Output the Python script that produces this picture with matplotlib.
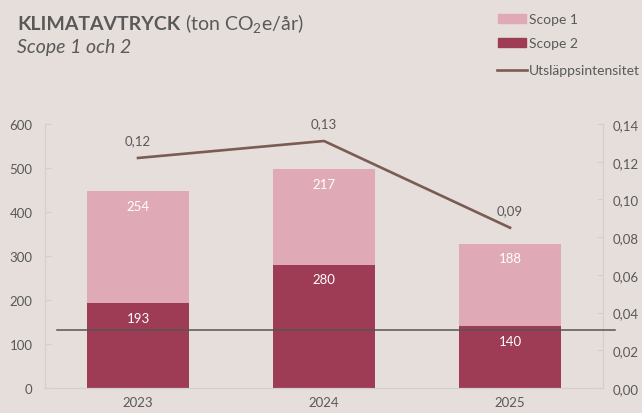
import matplotlib.pyplot as plt
import numpy as np
from matplotlib.patches import Rectangle
from matplotlib.lines import Line2D

plt.rcParams['font.family'] = ['Lato', 'DejaVu Sans']
plt.rcParams['mathtext.default'] = 'regular'

years = ['2023', '2024', '2025']
scope2 = [193, 280, 140]
scope1 = [254, 217, 188]
intensity = [0.122, 0.131, 0.085]
intensity_labels = ['0,12', '0,13', '0,09']
ref_level = 132

bg = '#e6dedb'
c_s1 = '#dfa9b6'
c_s2 = '#9e3b55'
c_line = '#7a5c52'
c_text = '#595959'
c_axis = '#d2cfcd'

fig = plt.figure(figsize=(6.42, 4.14), dpi=100)
fig.patch.set_facecolor(bg)
ax = fig.add_axes([0.0701, 0.0604, 0.8692, 0.6376])
ax.set_facecolor(bg)
ax2 = ax.twinx()

x = np.arange(len(years))
w = 0.55
ax.bar(x, scope2, w, color=c_s2, zorder=2)
ax.bar(x, scope1, w, bottom=scope2, color=c_s1, zorder=2)
for i in x:
    ax.annotate(str(scope2[i]), (i, scope2[i]), xytext=(0, -10.5), textcoords='offset points',
                ha='center', va='center', color='white', fontsize=9.5, zorder=3)
    ax.annotate(str(scope1[i]), (i, scope2[i] + scope1[i]), xytext=(0, -10.5), textcoords='offset points',
                ha='center', va='center', color='white', fontsize=9.5, zorder=3)

ax.set_xlim(-0.5, 2.5)
ax.set_ylim(0, 600)
ax.set_yticks(range(0, 601, 100))
ax.set_xticks(x)
ax.set_xticklabels(years)

ax2.plot(x, intensity, color=c_line, lw=1.9, zorder=4)
for i in x:
    ax2.annotate(intensity_labels[i], (i, intensity[i]), xytext=(0, 12.5), textcoords='offset points',
                 ha='center', va='center', color=c_text, fontsize=9.5)
ax2.set_ylim(0, 0.14)
ax2.set_yticks(np.arange(0, 0.141, 0.02))
ax2.set_yticklabels([f'{v:.2f}'.replace('.', ',') for v in np.arange(0, 0.141, 0.02)])

# stray horizontal line in the source chart
ax2.plot([0.0215, 1.0215], [ref_level / 600 * 0.14] * 2, color='#555555', lw=1.1, zorder=5,
         transform=ax2.get_yaxis_transform(), clip_on=False)

for a in (ax, ax2):
    for s in a.spines.values():
        s.set_color(c_axis)
    a.spines['top'].set_visible(False)
    a.tick_params(colors=c_text, labelsize=9.5, direction='in', length=4, width=0.8)
    a.tick_params(axis='y', color=c_axis)
ax.tick_params(axis='x', length=0, pad=6)
ax.tick_params(axis='y', pad=9)
ax2.tick_params(axis='y', pad=7)

t1 = fig.text(17 / 642, 1 - 30 / 414, 'KLIMATAVTRYCK', fontsize=14, fontweight='bold', color=c_text, va='baseline')
fig.canvas.draw()
bb = t1.get_window_extent()
fig.text((bb.x1 + 5) / 642, 1 - 30 / 414, '(ton CO$_2$e/år)', fontsize=14, color=c_text, va='baseline')
fig.text(17 / 642, 1 - 53 / 414, 'Scope 1 och 2', fontsize=14, style='italic', color=c_text, va='baseline')

# legend
fig.patches.append(Rectangle((498 / 642, 1 - 24 / 414), 28 / 642, 9 / 414, color=c_s1, transform=fig.transFigure))
fig.patches.append(Rectangle((498 / 642, 1 - 48 / 414), 28 / 642, 9 / 414, color=c_s2, transform=fig.transFigure))
fig.lines.append(Line2D([497 / 642, 527 / 642], [1 - 71 / 414] * 2, color=c_line, lw=1.9, transform=fig.transFigure))
fig.text(529 / 642, 1 - 19.5 / 414, 'Scope 1', fontsize=10, color=c_text, va='center')
fig.text(529 / 642, 1 - 43.5 / 414, 'Scope 2', fontsize=10, color=c_text, va='center')
fig.text(529 / 642, 1 - 71 / 414, 'Utsläppsintensitet', fontsize=10, color=c_text, va='center')

fig.savefig('out.png', dpi=100, facecolor=bg)
